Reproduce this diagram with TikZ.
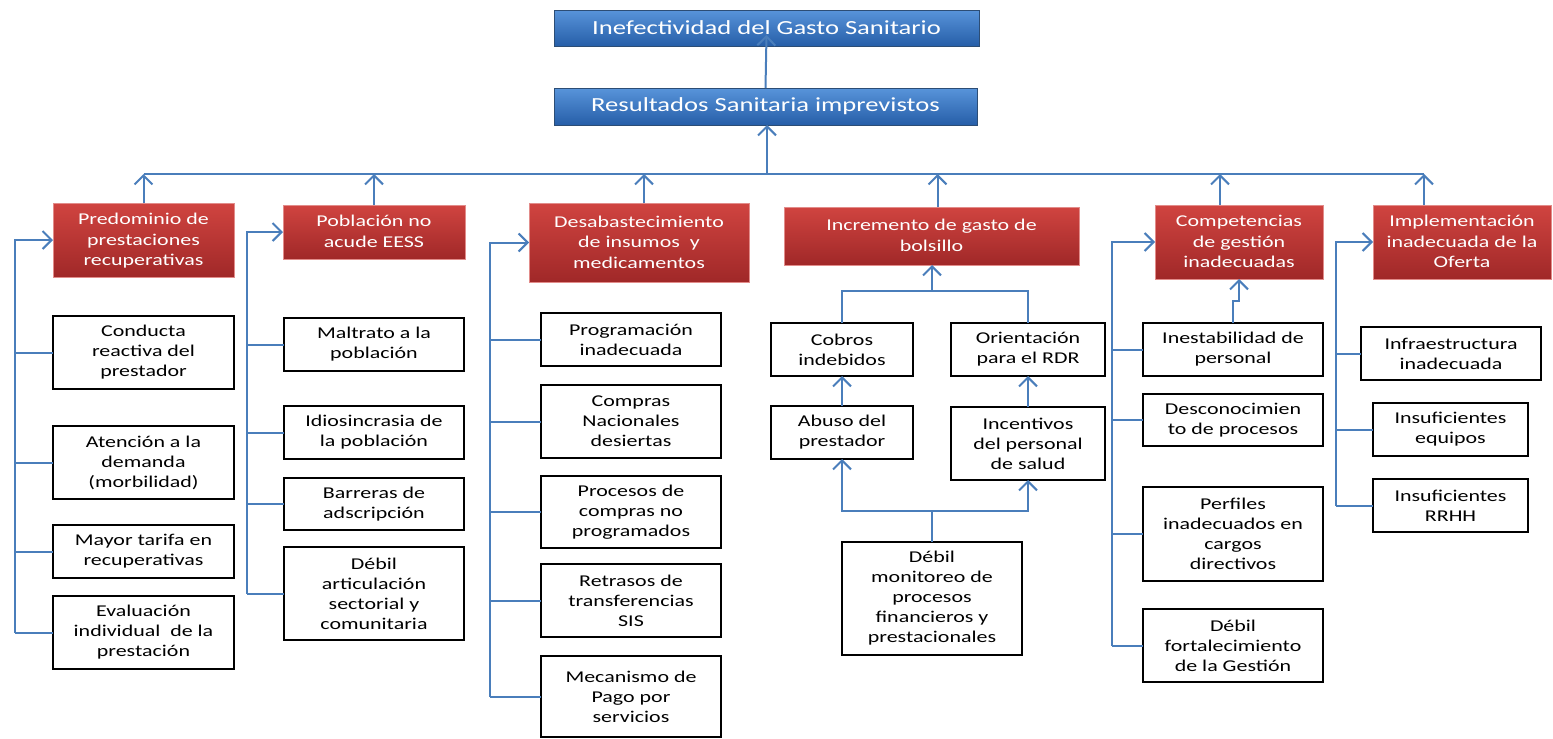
\documentclass[tikz,border=0pt]{standalone}
\usepackage{fontspec}
\setmainfont{Carlito}[FakeStretch=1.33]
\usetikzlibrary{arrows.meta}
\definecolor{lnblue}{RGB}{74,126,187}
\definecolor{redtop}{RGB}{208,68,64}
\definecolor{redbot}{RGB}{160,40,40}
\definecolor{redborder}{RGB}{226,140,138}
\definecolor{bluetop}{RGB}{88,148,218}
\definecolor{bluebot}{RGB}{38,94,168}
\definecolor{blueborder}{RGB}{44,77,117}
\newcommand\mybox[7]{%
  \node[#6, minimum width={(#4-#2)*1pt}, minimum height={(#5-#3)*1pt}]
    (#1) at ({(#2+#4)/2},{(#3+#5)/2}) {#7};}
\tikzset{
  basebox/.style={rectangle, inner sep=1pt, outer sep=0pt, align=center},
  blackbox/.style={basebox, draw=black, line width=1.6pt, fill=white,
    font=\fontsize{16.5}{20}\selectfont},
  redbox/.style={basebox, draw=redborder, line width=0.8pt, top color=redtop,
    bottom color=redbot, text=white, font=\fontsize{16.5}{20.5}\selectfont,
    text depth=1pt},
  bluebox/.style={basebox, draw=blueborder, line width=0.8pt, top color=bluetop,
    bottom color=bluebot, text=white, font=\fontsize{20}{24}\selectfont},
  conn/.style={draw=lnblue, line width=2pt},
  arr/.style={conn, -{Straight Barb[length=9pt,width=18pt,line width=2pt]}},
}
\begin{document}
\begin{tikzpicture}[x=1pt,y=-1pt]
\useasboundingbox (0,0) rectangle (1553,739);
% top
\mybox{t1}{554}{10}{979}{46}{bluebox}{Inefectividad del Gasto Sanitario}
\mybox{t2}{554}{88}{977}{125}{bluebox}{Resultados Sanitaria imprevistos}
% red
\mybox{r1}{53}{203}{234}{277}{redbox}{Predominio de\\prestaciones\\recuperativas}
\mybox{r2}{283}{205}{465}{259}{redbox}{Población no\\acude EESS}
\mybox{r3}{529}{203}{749}{282}{redbox}{Desabastecimiento\\de insumos~ y\\medicamentos}
\mybox{r4}{784}{207}{1079}{265}{redbox}{Incremento de gasto de\\bolsillo}
\mybox{r5}{1155}{205}{1323}{279}{redbox}{Competencias\\de gestión\\inadecuadas}
\mybox{r6}{1373}{205}{1551}{279}{redbox}{Implementación\\inadecuada de la\\Oferta}
% group 1
\mybox{a1}{53}{316}{234}{389}{blackbox}{Conducta\\reactiva del\\prestador}
\mybox{a2}{53}{426}{234}{499}{blackbox}{Atención a la\\demanda\\(morbilidad)}
\mybox{a3}{53}{525}{234}{578}{blackbox}{Mayor tarifa en\\recuperativas}
\mybox{a4}{53}{596}{234}{669}{blackbox}{Evaluación\\individual~ de la\\prestación}
% group 2
\mybox{b1}{284}{318}{464}{371}{blackbox}{Maltrato a la\\población}
\mybox{b2}{284}{406}{464}{459}{blackbox}{Idiosincrasia de\\la población}
\mybox{b3}{284}{478}{464}{530}{blackbox}{Barreras de\\adscripción}
\mybox{b4}{284}{547}{464}{640}{blackbox}{Débil\\articulación\\sectorial y\\comunitaria}
% group 3
\mybox{c1}{541}{313}{721}{366}{blackbox}{Programación\\inadecuada}
\mybox{c2}{541}{385}{721}{458}{blackbox}{Compras\\Nacionales\\desiertas}
\mybox{c3}{541}{476}{721}{548}{blackbox}{Procesos de\\compras no\\programados}
\mybox{c4}{541}{564}{721}{637}{blackbox}{Retrasos de\\transferencias\\SIS}
\mybox{c5}{541}{656}{721}{737}{blackbox}{Mecanismo de\\Pago por\\servicios}
% group 4
\mybox{d1}{771}{323}{913}{376}{blackbox}{Cobros\\indebidos}
\mybox{d2}{951}{323}{1105}{376}{blackbox}{Orientación\\para el RDR}
\mybox{d3}{771}{406}{913}{459}{blackbox}{Abuso del\\prestador}
\mybox{d4}{951}{407}{1105}{480}{blackbox}{Incentivos\\del personal\\de salud}
\mybox{d5}{842}{542}{1022}{655}{blackbox}{Débil\\monitoreo de\\procesos\\financieros y\\prestacionales}
% group 5
\mybox{e1}{1143}{323}{1323}{376}{blackbox}{Inestabilidad de\\personal}
\mybox{e2}{1143}{394}{1323}{446}{blackbox}{Desconocimien\\to de procesos}
\mybox{e3}{1143}{487}{1323}{581}{blackbox}{Perfiles\\inadecuados en\\cargos\\directivos}
\mybox{e4}{1143}{609}{1323}{682}{blackbox}{Débil\\fortalecimiento\\de la Gestión}
% group 6
\mybox{f1}{1361}{327}{1541}{380}{blackbox}{Infraestructura\\inadecuada}
\mybox{f2}{1373}{403}{1528}{456}{blackbox}{Insuficientes\\equipos}
\mybox{f3}{1373}{479}{1528}{532}{blackbox}{Insuficientes\\RRHH}
% top connectors
\coordinate (bus) at (767,174);
\coordinate (r3a) at ([xshift=5pt]r3.north);
\coordinate (r4a) at ([xshift=6pt]r4.north);
\coordinate (r5a) at ([xshift=-19pt]r5.north);
\coordinate (r6a) at ([xshift=-38pt]r6.north);
\draw[arr] (t2.north) -- ([yshift=11pt]t1.south);
\draw[arr] (bus) -- (bus |- t2.south);
\draw[conn] (r1.north |- bus) -- (r6a |- bus);
\draw[arr] (r1.north) -- (r1.north |- bus);
\draw[arr] (r2.north) -- (r2.north |- bus);
\draw[arr] (r3a) -- (r3a |- bus);
\draw[arr] (r4a) -- (r4a |- bus);
\draw[arr] (r5a) -- (r5a |- bus);
\draw[arr] (r6a) -- (r6a |- bus);
% brackets
\coordinate (g1) at (15,0);
\coordinate (g2) at (247,0);
\coordinate (g3) at (490,0);
\coordinate (g5) at (1112,0);
\coordinate (g6) at (1336,0);
\draw[arr] (g1 |- a4.west) -- (g1 |- r1.west) -- (r1.west);
\foreach \n in {a1,a2,a3,a4} \draw[conn] (g1 |- \n.west) -- (\n.west);
\draw[arr] (g2 |- b4.west) -- (g2 |- r2.west) -- (r2.west);
\foreach \n in {b1,b2,b3,b4} \draw[conn] (g2 |- \n.west) -- (\n.west);
\draw[arr] (g3 |- c5.west) -- (g3 |- r3.west) -- (r3.west);
\foreach \n in {c1,c2,c3,c4,c5} \draw[conn] (g3 |- \n.west) -- (\n.west);
\draw[arr] (g5 |- e4.west) -- (g5 |- r5.west) -- (r5.west);
\foreach \n in {e1,e2,e3,e4} \draw[conn] (g5 |- \n.west) -- (\n.west);
\draw[arr] (g6 |- f3.west) -- (g6 |- r6.west) -- (r6.west);
\foreach \n in {f1,f2,f3} \draw[conn] (g6 |- \n.west) -- (\n.west);
% group 4 connectors
\coordinate (j1) at (932,291);
\coordinate (j2) at (932,511);
\draw[conn] (d1.north) -- (d1.north |- j1) -- (d2.north |- j1) -- (d2.north);
\draw[arr] (j1) -- (j1 |- r4.south);
\draw[arr] (d3.north) -- (d1.south);
\draw[arr] (d4.north) -- (d2.south);
\draw[conn] (d5.north) -- (j2);
\draw[arr] (j2) -- (d3.south |- j2) -- (d3.south);
\draw[arr] (j2) -- (d4.south |- j2) -- (d4.south);
% group 5 extra
\coordinate (k) at (1239,301);
\draw[arr] (e1.north) -- (e1.north |- k) -- (k) -- (k |- r5.south);
\end{tikzpicture}
\end{document}
